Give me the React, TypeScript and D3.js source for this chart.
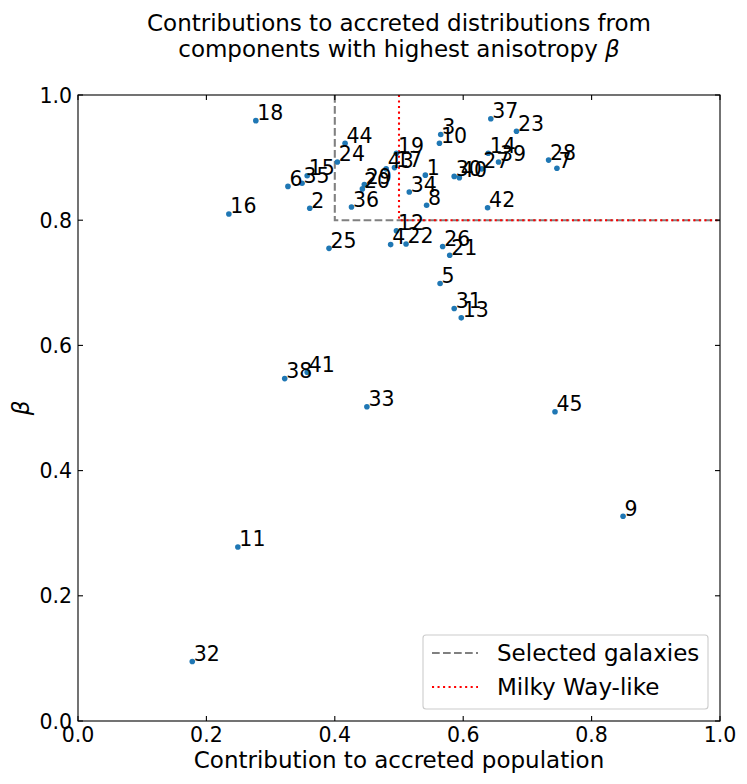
import React from 'react';
import * as d3 from 'd3';

const labels = [
  '1', '2', '3', '4', '5', '6', '7', '8', '9', '10',
  '11', '12', '13', '14', '15', '16', '17', '18', '19', '20',
  '21', '22', '23', '24', '25', '26', '27', '28', '29', '30',
  '31', '32', '33', '34', '35', '36', '37', '38', '39', '40',
  '41', '42', '43', '44', '45',
];

// contribution to accreted population
const contribution = [
  0.541, 0.361, 0.565, 0.487, 0.564, 0.327, 0.746, 0.543, 0.849, 0.563,
  0.249, 0.496, 0.597, 0.639, 0.357, 0.235, 0.493, 0.277, 0.496, 0.443,
  0.579, 0.511, 0.683, 0.404, 0.391, 0.568, 0.629, 0.733, 0.446, 0.586,
  0.586, 0.178, 0.45, 0.516, 0.349, 0.426, 0.643, 0.322, 0.655, 0.594,
  0.357, 0.638, 0.48, 0.416, 0.743,
];

// anisotropy beta
const beta = [
  0.872, 0.819, 0.937, 0.761, 0.699, 0.854, 0.883, 0.824, 0.327, 0.923,
  0.278, 0.783, 0.644, 0.907, 0.871, 0.81, 0.884, 0.959, 0.907, 0.85,
  0.744, 0.762, 0.942, 0.893, 0.755, 0.758, 0.882, 0.896, 0.857, 0.87,
  0.659, 0.095, 0.502, 0.845, 0.859, 0.821, 0.962, 0.547, 0.893, 0.868,
  0.557, 0.82, 0.882, 0.923, 0.494,
];

const ticks = [0, 0.2, 0.4, 0.6, 0.8, 1.0];

// selection thresholds: [x cut, y cut]
const selectedCut = [0.4, 0.8];
const milkyWayCut = [0.5, 0.8];

const W = 747;
const H = 784;
const font = '"DejaVu Sans", sans-serif';
const big = 23;
const small = 20.5;

const App: React.FC = () => {
  const x = d3.scaleLinear().domain([0, 1]).range([78, 720]);
  const y = d3.scaleLinear().domain([0, 1]).range([721, 95]);

  const line = d3.line<[number, number]>().x(d => x(d[0])).y(d => y(d[1]));

  const boxPath = (cut: number[]) =>
    line([
      [cut[0], 1],
      [cut[0], cut[1]],
      [1, cut[1]],
    ]) || '';

  const points = labels.map((label, i) => ({ label, cx: contribution[i], cy: beta[i] }));

  const [x0, x1] = x.range();
  const [y0, y1] = y.range();

  return (
    <svg
      width={W}
      height={H}
      style={{ position: 'absolute', left: 0, top: 0, background: '#fff' }}
      fontFamily={font}
    >
      {/* title */}
      <text x={(x0 + x1) / 2} y={30.5} fontSize={big} textAnchor="middle">
        Contributions to accreted distributions from
      </text>
      <text x={(x0 + x1) / 2} y={57} fontSize={big} textAnchor="middle">
        components with highest anisotropy <tspan fontStyle="italic">β</tspan>
      </text>

      {/* threshold lines */}
      <path d={boxPath(selectedCut)} fill="none" stroke="#808080" strokeWidth={2.08} strokeDasharray="7.7 3.3" />
      <path d={boxPath(milkyWayCut)} fill="none" stroke="#ff0000" strokeWidth={2.08} strokeDasharray="2.08 3.44" />

      {/* points */}
      {points.map(p => (
        <circle key={'c' + p.label} cx={x(p.cx)} cy={y(p.cy)} r={2.8} fill="#1f77b4" />
      ))}
      {points.map(p => (
        <text key={'t' + p.label} x={x(p.cx) + 1.5} y={y(p.cy) - 0.5} fontSize={small}>
          {p.label}
        </text>
      ))}

      {/* ticks, inward on all sides */}
      {ticks.map(t => (
        <g key={'tk' + t} stroke="#000" strokeWidth={1.1}>
          <line x1={x(t)} x2={x(t)} y1={y0} y2={y0 - 5} />
          <line x1={x(t)} x2={x(t)} y1={y1} y2={y1 + 5} />
          <line x1={x0} x2={x0 + 5} y1={y(t)} y2={y(t)} />
          <line x1={x1} x2={x1 - 5} y1={y(t)} y2={y(t)} />
        </g>
      ))}
      {ticks.map(t => (
        <text key={'xl' + t} x={x(t)} y={742} fontSize={small} textAnchor="middle">
          {t.toFixed(1)}
        </text>
      ))}
      {ticks.map(t => (
        <text key={'yl' + t} x={72} y={y(t) + 7.5} fontSize={small} textAnchor="end">
          {t.toFixed(1)}
        </text>
      ))}

      {/* frame */}
      <rect x={x0} y={y1} width={x1 - x0} height={y0 - y1} fill="none" stroke="#000" strokeWidth={1.1} />

      {/* axis labels */}
      <text x={(x0 + x1) / 2} y={768} fontSize={big} textAnchor="middle">
        Contribution to accreted population
      </text>
      <text
        transform={`translate(29, ${(y0 + y1) / 2}) rotate(-90)`}
        fontSize={big}
        fontStyle="italic"
        textAnchor="middle"
      >
        β
      </text>

      {/* legend */}
      <g>
        <rect x={423} y={635} width={285} height={74} rx={3} fill="#fff" fillOpacity={0.8} stroke="#cccccc" strokeWidth={1.1} />
        <line x1={432} x2={478} y1={653} y2={653} stroke="#808080" strokeWidth={2.08} strokeDasharray="7.7 3.3" />
        <text x={497} y={661} fontSize={big}>Selected galaxies</text>
        <line x1={432} x2={478} y1={687} y2={687} stroke="#ff0000" strokeWidth={2.08} strokeDasharray="2.08 3.44" />
        <text x={497} y={695} fontSize={big}>Milky Way-like</text>
      </g>
    </svg>
  );
};

export default App;
